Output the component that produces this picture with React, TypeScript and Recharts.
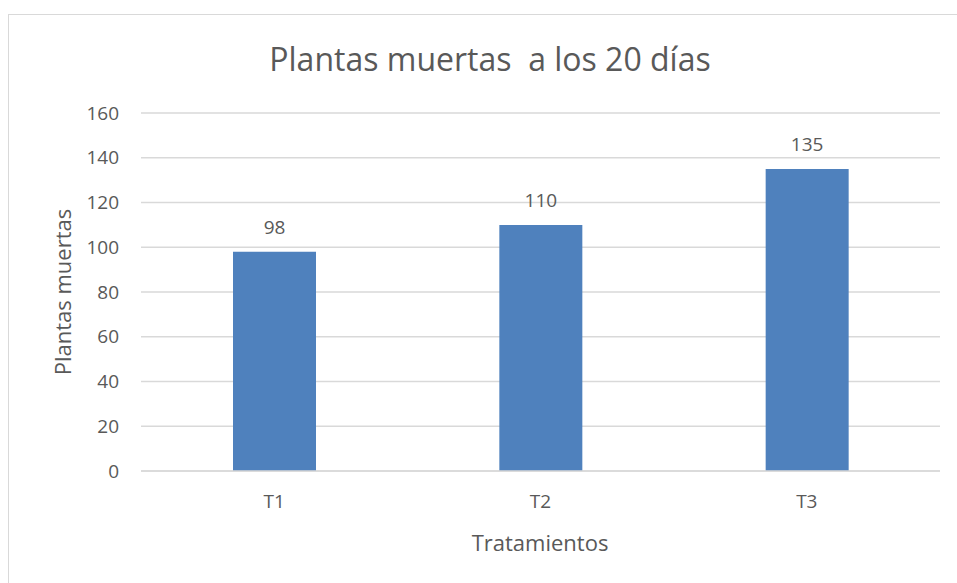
import React from "react";
import { BarChart, Bar, XAxis, YAxis, CartesianGrid, LabelList } from "recharts";

const categories = ["T1", "T2", "T3"];
const values = [98, 110, 135];
const yTicks = [0, 20, 40, 60, 80, 100, 120, 140, 160];
const title = "Plantas muertas  a los 20 días";
const yTitle = "Plantas muertas";
const xTitle = "Tratamientos";

const data = categories.map((c, i) => ({ name: c, value: values[i] }));

const FONT = "'Open Sans', 'Noto Sans', sans-serif";
const TXT = "#595959";

export default function App() {
  return (
    <div style={{ position: "absolute", left: 0, top: 0, width: 957, height: 583, background: "#fff", overflow: "hidden", fontFamily: FONT }}>
      <div style={{ position: "absolute", left: 8, top: 14, width: 1000, height: 1000, border: "1px solid #d9d9d9", boxSizing: "border-box" }} />
      <div style={{ position: "absolute", left: 0, top: 0 }}>
        <BarChart width={957} height={583} data={data} margin={{ top: 113, right: 17, bottom: 82, left: 0 }}>
          <CartesianGrid vertical={false} stroke="#d9d9d9" strokeWidth={1.3} />
          <XAxis dataKey="name" axisLine={{ stroke: "#d9d9d9", strokeWidth: 1.3 }} tickLine={false} tick={{ fill: TXT, fontSize: 19, fontFamily: FONT }} tickMargin={18} />
          <YAxis width={141} domain={[0, 160]} ticks={yTicks} axisLine={false} tickLine={false} tick={{ fill: TXT, fontSize: 19, fontFamily: FONT }} tickMargin={16} interval={0} />
          <Bar dataKey="value" fill="#4f81bd" barSize={83} isAnimationActive={false}>
            <LabelList dataKey="value" position="top" offset={18} fill={TXT} fontSize={19} fontFamily={FONT} />
          </Bar>
        </BarChart>
      </div>
      <div style={{ position: "absolute", left: 490, top: 58, transform: "translate(-50%, -50%)", fontSize: 32, color: TXT, whiteSpace: "pre" }}>{title}</div>
      <div style={{ position: "absolute", left: 540, top: 542, transform: "translate(-50%, -50%)", fontSize: 22, color: TXT, whiteSpace: "nowrap" }}>{xTitle}</div>
      <div style={{ position: "absolute", left: 62, top: 292, transform: "translate(-50%, -50%) rotate(-90deg)", fontSize: 22, color: TXT, whiteSpace: "nowrap" }}>{yTitle}</div>
    </div>
  );
}
